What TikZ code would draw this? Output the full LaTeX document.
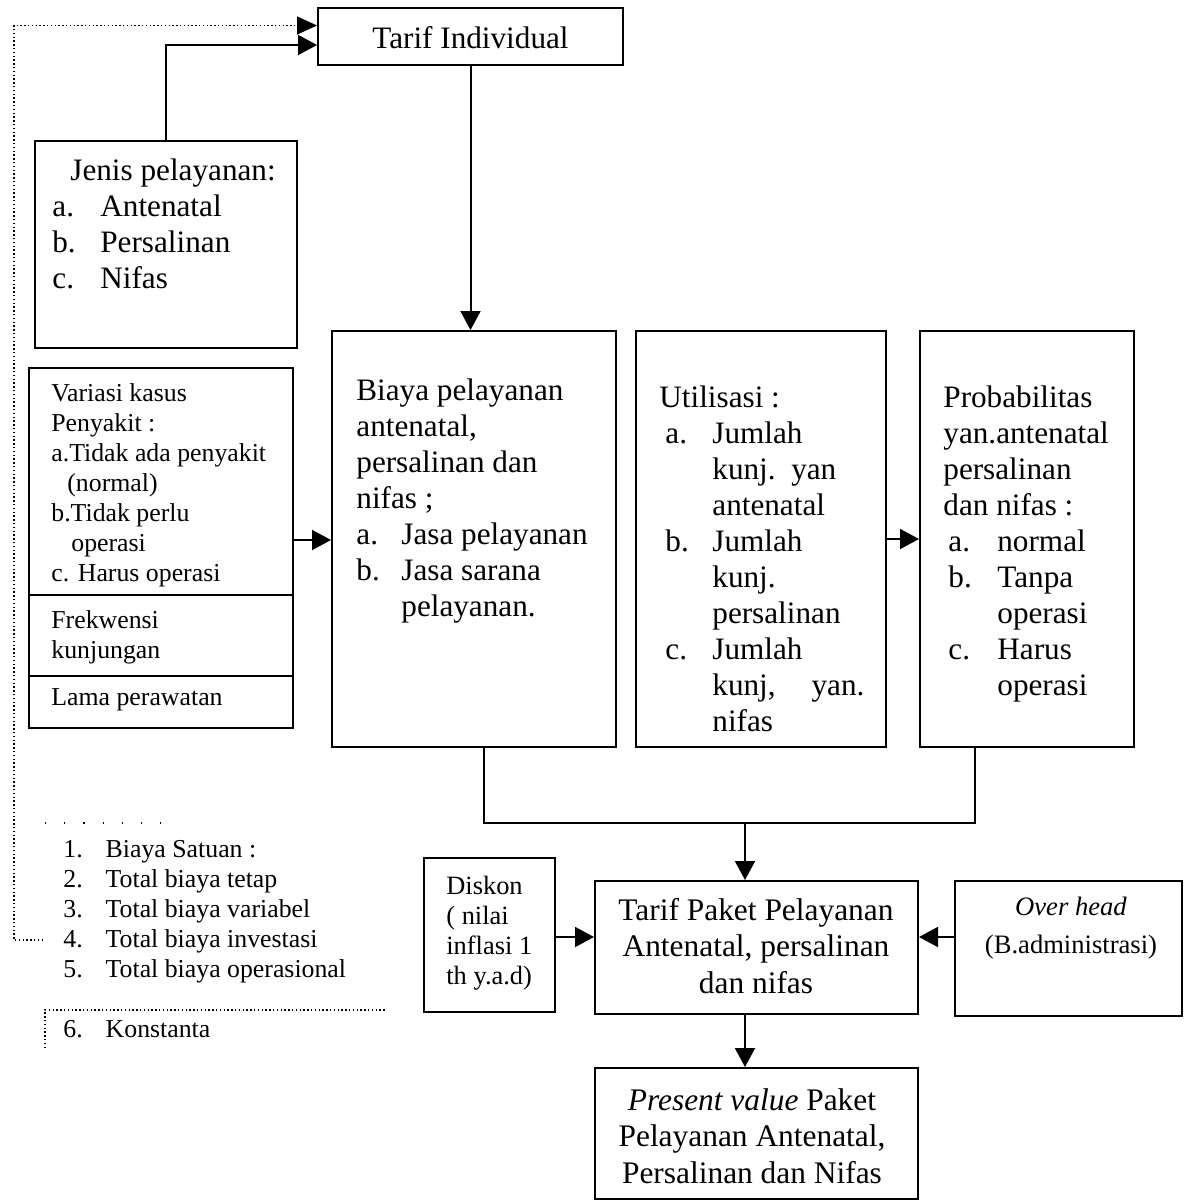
\documentclass[tikz,border=0pt]{standalone}
\usepackage{fontspec}
\setmainfont{Liberation Serif}
\usetikzlibrary{arrows.meta,calc}
\begin{document}
\begin{tikzpicture}[x=0.5pt,y=-0.5pt,
  box/.style={draw,line width=1pt,inner sep=0pt},
  arr/.style={line width=1pt,-{Triangle[length=9.5pt,width=10pt]}},
  ln/.style={line width=1pt},
  dotln/.style={line width=0.7pt,dash pattern=on 0.7pt off 1.2pt},
  dotarr/.style={dotln,-{Triangle[length=10pt,width=9pt]}},
  bigtxt/.style={font=\fontsize{15.6}{18}\selectfont,inner sep=0pt},
  pktxt/.style={font=\fontsize{15.7}{18.3}\selectfont,inner sep=0pt},
  smtxt/.style={font=\fontsize{12.9}{15}\selectfont,inner sep=0pt},
  dktxt/.style={font=\fontsize{13.2}{15}\selectfont,inner sep=0pt},
  ohtxt/.style={font=\fontsize{13.3}{19}\selectfont,inner sep=0pt}]
\useasboundingbox (0,0) rectangle (1184,1201);

% boxes
\node[box,minimum width=152.5pt,minimum height=28.5pt] (ti) at (470.5,36.5) {};
\node[box,minimum width=131pt,minimum height=103.5pt] (jenis) at (166,244.5) {};
\node[box,minimum width=132pt,minimum height=180pt] (var) at (161,548) {};
\node[box,minimum width=142pt,minimum height=208pt] (biaya) at (474,539) {};
\node[box,minimum width=125pt,minimum height=208pt] (util) at (761,539) {};
\node[box,minimum width=107pt,minimum height=208pt] (prob) at (1027,539) {};
\node[box,minimum width=65.5pt,minimum height=77pt] (diskon) at (489.5,935) {};
\node[box,minimum width=161.5pt,minimum height=66.5pt] (paket) at (756.5,947.5) {};
\node[box,minimum width=113.5pt,minimum height=67.5pt] (over) at (1068.5,948.5) {};
\node[box,minimum width=161.5pt,minimum height=65.5pt] (pv) at (756.5,1133.5) {};

% dividers in the left box
\draw[ln] ([yshift=-114pt]var.north west) -- ([yshift=-114pt]var.north east);
\draw[ln] ([yshift=-154.5pt]var.north west) -- ([yshift=-154.5pt]var.north east);

% texts
\node[bigtxt] (tit) at (470.5,38) {Tarif Individual};

\node[bigtxt,anchor=north west] (jt) at (52,155) {\begin{tabular}{@{}p{24pt}@{}l@{}}
\multicolumn{2}{@{}l@{}}{\hspace{9pt}Jenis pelayanan:}\\
a. & Antenatal\\
b. & Persalinan\\
c. & Nifas
\end{tabular}};

\node[smtxt,anchor=north west] (vt) at (51,380) {\begin{tabular}{@{}l@{}}
Variasi kasus\\
Penyakit :\\
a.Tidak ada penyakit\\
\hspace{8pt}(normal)\\
b.Tidak perlu\\
\hspace{10pt}operasi\\
c. Harus operasi
\end{tabular}};
\node[smtxt,anchor=north west] (ft) at (51,607) {\begin{tabular}{@{}l@{}}
Frekwensi\\
kunjungan
\end{tabular}};
\node[smtxt,anchor=north west] (lt) at (51,684) {\begin{tabular}{@{}l@{}}
Lama perawatan
\end{tabular}};

\node[bigtxt,anchor=north west] (bt) at (356,375) {\begin{tabular}{@{}p{22.5pt}@{}l@{}}
\multicolumn{2}{@{}l@{}}{Biaya pelayanan}\\
\multicolumn{2}{@{}l@{}}{antenatal,}\\
\multicolumn{2}{@{}l@{}}{persalinan dan}\\
\multicolumn{2}{@{}l@{}}{nifas ;}\\
a. & Jasa pelayanan\\
b. & Jasa sarana\\
 & pelayanan.
\end{tabular}};

\node[bigtxt,anchor=north west] (ut) at (659,382) {\begin{tabular}{@{}p{26.5pt}@{}l@{}}
\multicolumn{2}{@{}l@{}}{Utilisasi :}\\
\hspace{3pt}a. & Jumlah\\
 & kunj.\ \ yan\\
 & antenatal\\
\hspace{3pt}b. & Jumlah\\
 & kunj.\\
 & persalinan\\
\hspace{3pt}c. & Jumlah\\
 & kunj,\hspace{18pt}yan.\\
 & nifas
\end{tabular}};

\node[bigtxt,anchor=north west] (pt) at (943,382) {\begin{tabular}{@{}p{27pt}@{}l@{}}
\multicolumn{2}{@{}l@{}}{Probabilitas}\\
\multicolumn{2}{@{}l@{}}{yan.antenatal}\\
\multicolumn{2}{@{}l@{}}{persalinan}\\
\multicolumn{2}{@{}l@{}}{dan nifas :}\\
\hspace{2.5pt}a. & normal\\
\hspace{2.5pt}b. & Tanpa\\
 & operasi\\
\hspace{2.5pt}c. & Harus\\
 & operasi
\end{tabular}};

\node[dktxt,anchor=north west] (dt) at (446,873) {\begin{tabular}{@{}l@{}}
Diskon\\
( nilai\\
inflasi 1\\
th y.a.d)
\end{tabular}};

\node[pktxt,anchor=north] (kt) at (756,894) {\begin{tabular}{@{}c@{}}
Tarif Paket Pelayanan\\
Antenatal, persalinan\\
dan nifas
\end{tabular}};

\node[ohtxt,anchor=north] (ot) at (1071,888) {\begin{tabular}{@{}c@{}}
\textit{Over head}\\
(B.administrasi)
\end{tabular}};

\node[pktxt,anchor=north] (pvt) at (752,1084) {\begin{tabular}{@{}c@{}}
\textit{Present value} Paket\\
Pelayanan Antenatal,\\
Persalinan dan Nifas
\end{tabular}};

\node[smtxt,anchor=north west] (list) at (63,836) {\begin{tabular}{@{}r@{\hspace{11.5pt}}l@{}}
1. & Biaya Satuan :\\
2. & Total biaya tetap\\
3. & Total biaya variabel\\
4. & Total biaya investasi\\
5. & Total biaya operasional
\end{tabular}};
\node[smtxt,anchor=north west] (list6) at (63,1016) {\begin{tabular}{@{}r@{\hspace{11.5pt}}l@{}}
6. & Konstanta
\end{tabular}};

% connectors
\draw[arr] (jenis.north) |- ([yshift=-4.25pt]ti.west);
\coordinate (d1) at (43,940);
\coordinate (d0) at (14,940);
\draw[dotarr] (d1) -- (d0) |- ([yshift=5.5pt]ti.west);
\draw[arr] (ti.south) -- (ti.south |- biaya.north);
\draw[arr] ([yshift=4pt]var.east) -- ([yshift=4pt]var.east -| biaya.west);
\draw[arr] (util.east) -- (util.east -| prob.west);
\coordinate (j) at (745,823);
\draw[ln] ([xshift=5pt]biaya.south) |- (j) -| ([xshift=-26pt]prob.south);
\draw[arr] (j) -- (j |- paket.north);
\draw[arr] ([yshift=-1pt]diskon.east) -- ([yshift=-1pt]diskon.east -| paket.west);
\draw[arr] ([yshift=5.75pt]over.west) -- ([yshift=5.75pt]over.west -| paket.east);
\draw[arr] (paket.south -| j) -- (pv.north -| j);

% dotted remnants around the list
\coordinate (e0) at (45,823);
\coordinate (e1) at (165,823);
\draw[line width=0.6pt,dash pattern=on 0.6pt off 9pt] (e0) -- (e1);
\coordinate (f0) at (45,1048);
\coordinate (f1) at (45,1010);
\coordinate (f2) at (385,1010);
\draw[dotln] (f0) -- (f1) -- (f2);
\end{tikzpicture}
\end{document}
